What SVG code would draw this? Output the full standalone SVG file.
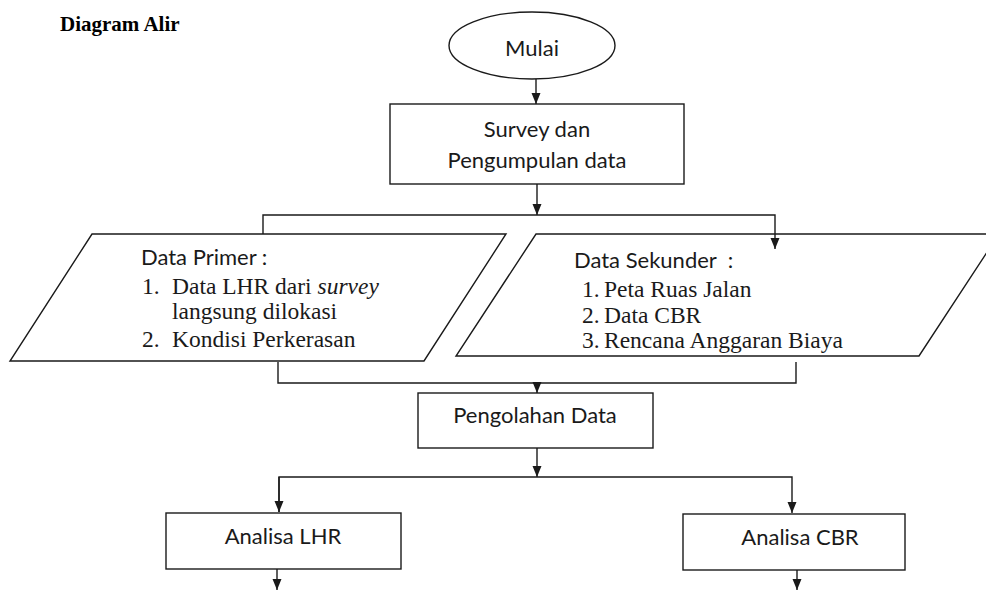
<svg xmlns="http://www.w3.org/2000/svg" width="986" height="592" viewBox="0 0 986 592">
<style>
.shape{fill:#fff;stroke:#1a1a1a;stroke-width:1.4}
.conn{fill:none;stroke:#1a1a1a;stroke-width:1.4}
.sans{font-family:Lato,"Open Sans",sans-serif;font-size:22px;fill:#1a1a1a}
.serif{font-family:"Liberation Serif","Times New Roman",serif;font-size:23.5px;fill:#1a1a1a}
.title{font-family:"Liberation Serif","Times New Roman",serif;font-size:21px;font-weight:bold;fill:#000}
.mid{text-anchor:middle}
</style>
<defs>
<marker id="arr" markerUnits="userSpaceOnUse" markerWidth="12" markerHeight="10" refX="11" refY="5" orient="auto">
<path d="M0,0.5 L11,5 L0,9.5 z" fill="#1a1a1a"/>
</marker>
</defs>
<text class="title" x="60" y="31">Diagram Alir</text>
<g id="mulai">
<ellipse class="shape" cx="532" cy="45.5" rx="83" ry="33.5"/>
<text class="sans mid" x="532" y="56">Mulai</text>
</g>
<g id="survey">
<rect class="shape" x="390" y="104" width="294" height="80"/>
<text class="sans mid" x="537" y="137">Survey dan</text>
<text class="sans mid" x="537" y="168">Pengumpulan data</text>
</g>
<g id="data-primer">
<polygon class="shape" points="92,234 506,234 424,361 10,361"/>
<text class="sans" x="141" y="265">Data Primer :</text>
<text class="serif" x="142" y="294">1.</text>
<text class="serif" x="172" y="294">Data LHR dari <tspan font-style="italic">survey</tspan></text>
<text class="serif" x="172" y="319">langsung dilokasi</text>
<text class="serif" x="142" y="347">2.</text>
<text class="serif" x="172" y="347">Kondisi Perkerasan</text>
</g>
<g id="data-sekunder">
<polygon class="shape" points="536,234 999,234 919,356 456,356"/>
<text class="sans" x="574" y="268" xml:space="preserve">Data Sekunder  :</text>
<text class="serif" x="582" y="297">1.</text>
<text class="serif" x="604" y="297">Peta Ruas Jalan</text>
<text class="serif" x="582" y="323">2.</text>
<text class="serif" x="604" y="323">Data CBR</text>
<text class="serif" x="582" y="348">3.</text>
<text class="serif" x="604" y="348">Rencana Anggaran Biaya</text>
</g>
<g id="pengolahan">
<rect class="shape" x="418" y="393" width="235" height="55"/>
<text class="sans mid" x="535" y="423">Pengolahan Data</text>
</g>
<g id="analisa-lhr">
<rect class="shape" x="166" y="513" width="235" height="56"/>
<text class="sans mid" x="283" y="544">Analisa LHR</text>
</g>
<g id="analisa-cbr">
<rect class="shape" x="683" y="514" width="222" height="56"/>
<text class="sans mid" x="800" y="545">Analisa CBR</text>
</g>
<g id="connectors">
<path class="conn" d="M536,79 V104" marker-end="url(#arr)"/>
<path class="conn" d="M537,184 V215" marker-end="url(#arr)"/>
<path class="conn" d="M263,234 V215 H775 V249" marker-end="url(#arr)"/>
<path class="conn" d="M278,362 V383 H796 V362"/>
<path class="conn" d="M537,383 V393" marker-end="url(#arr)"/>
<path class="conn" d="M537,448 V477" marker-end="url(#arr)"/>
<path class="conn" d="M279,512 V477 H792 V513" marker-end="url(#arr)"/>
<path class="conn" d="M279,477 V512" marker-end="url(#arr)"/>
<path class="conn" d="M277,569 V590" marker-end="url(#arr)"/>
<path class="conn" d="M797,570 V590" marker-end="url(#arr)"/>
</g>
</svg>
